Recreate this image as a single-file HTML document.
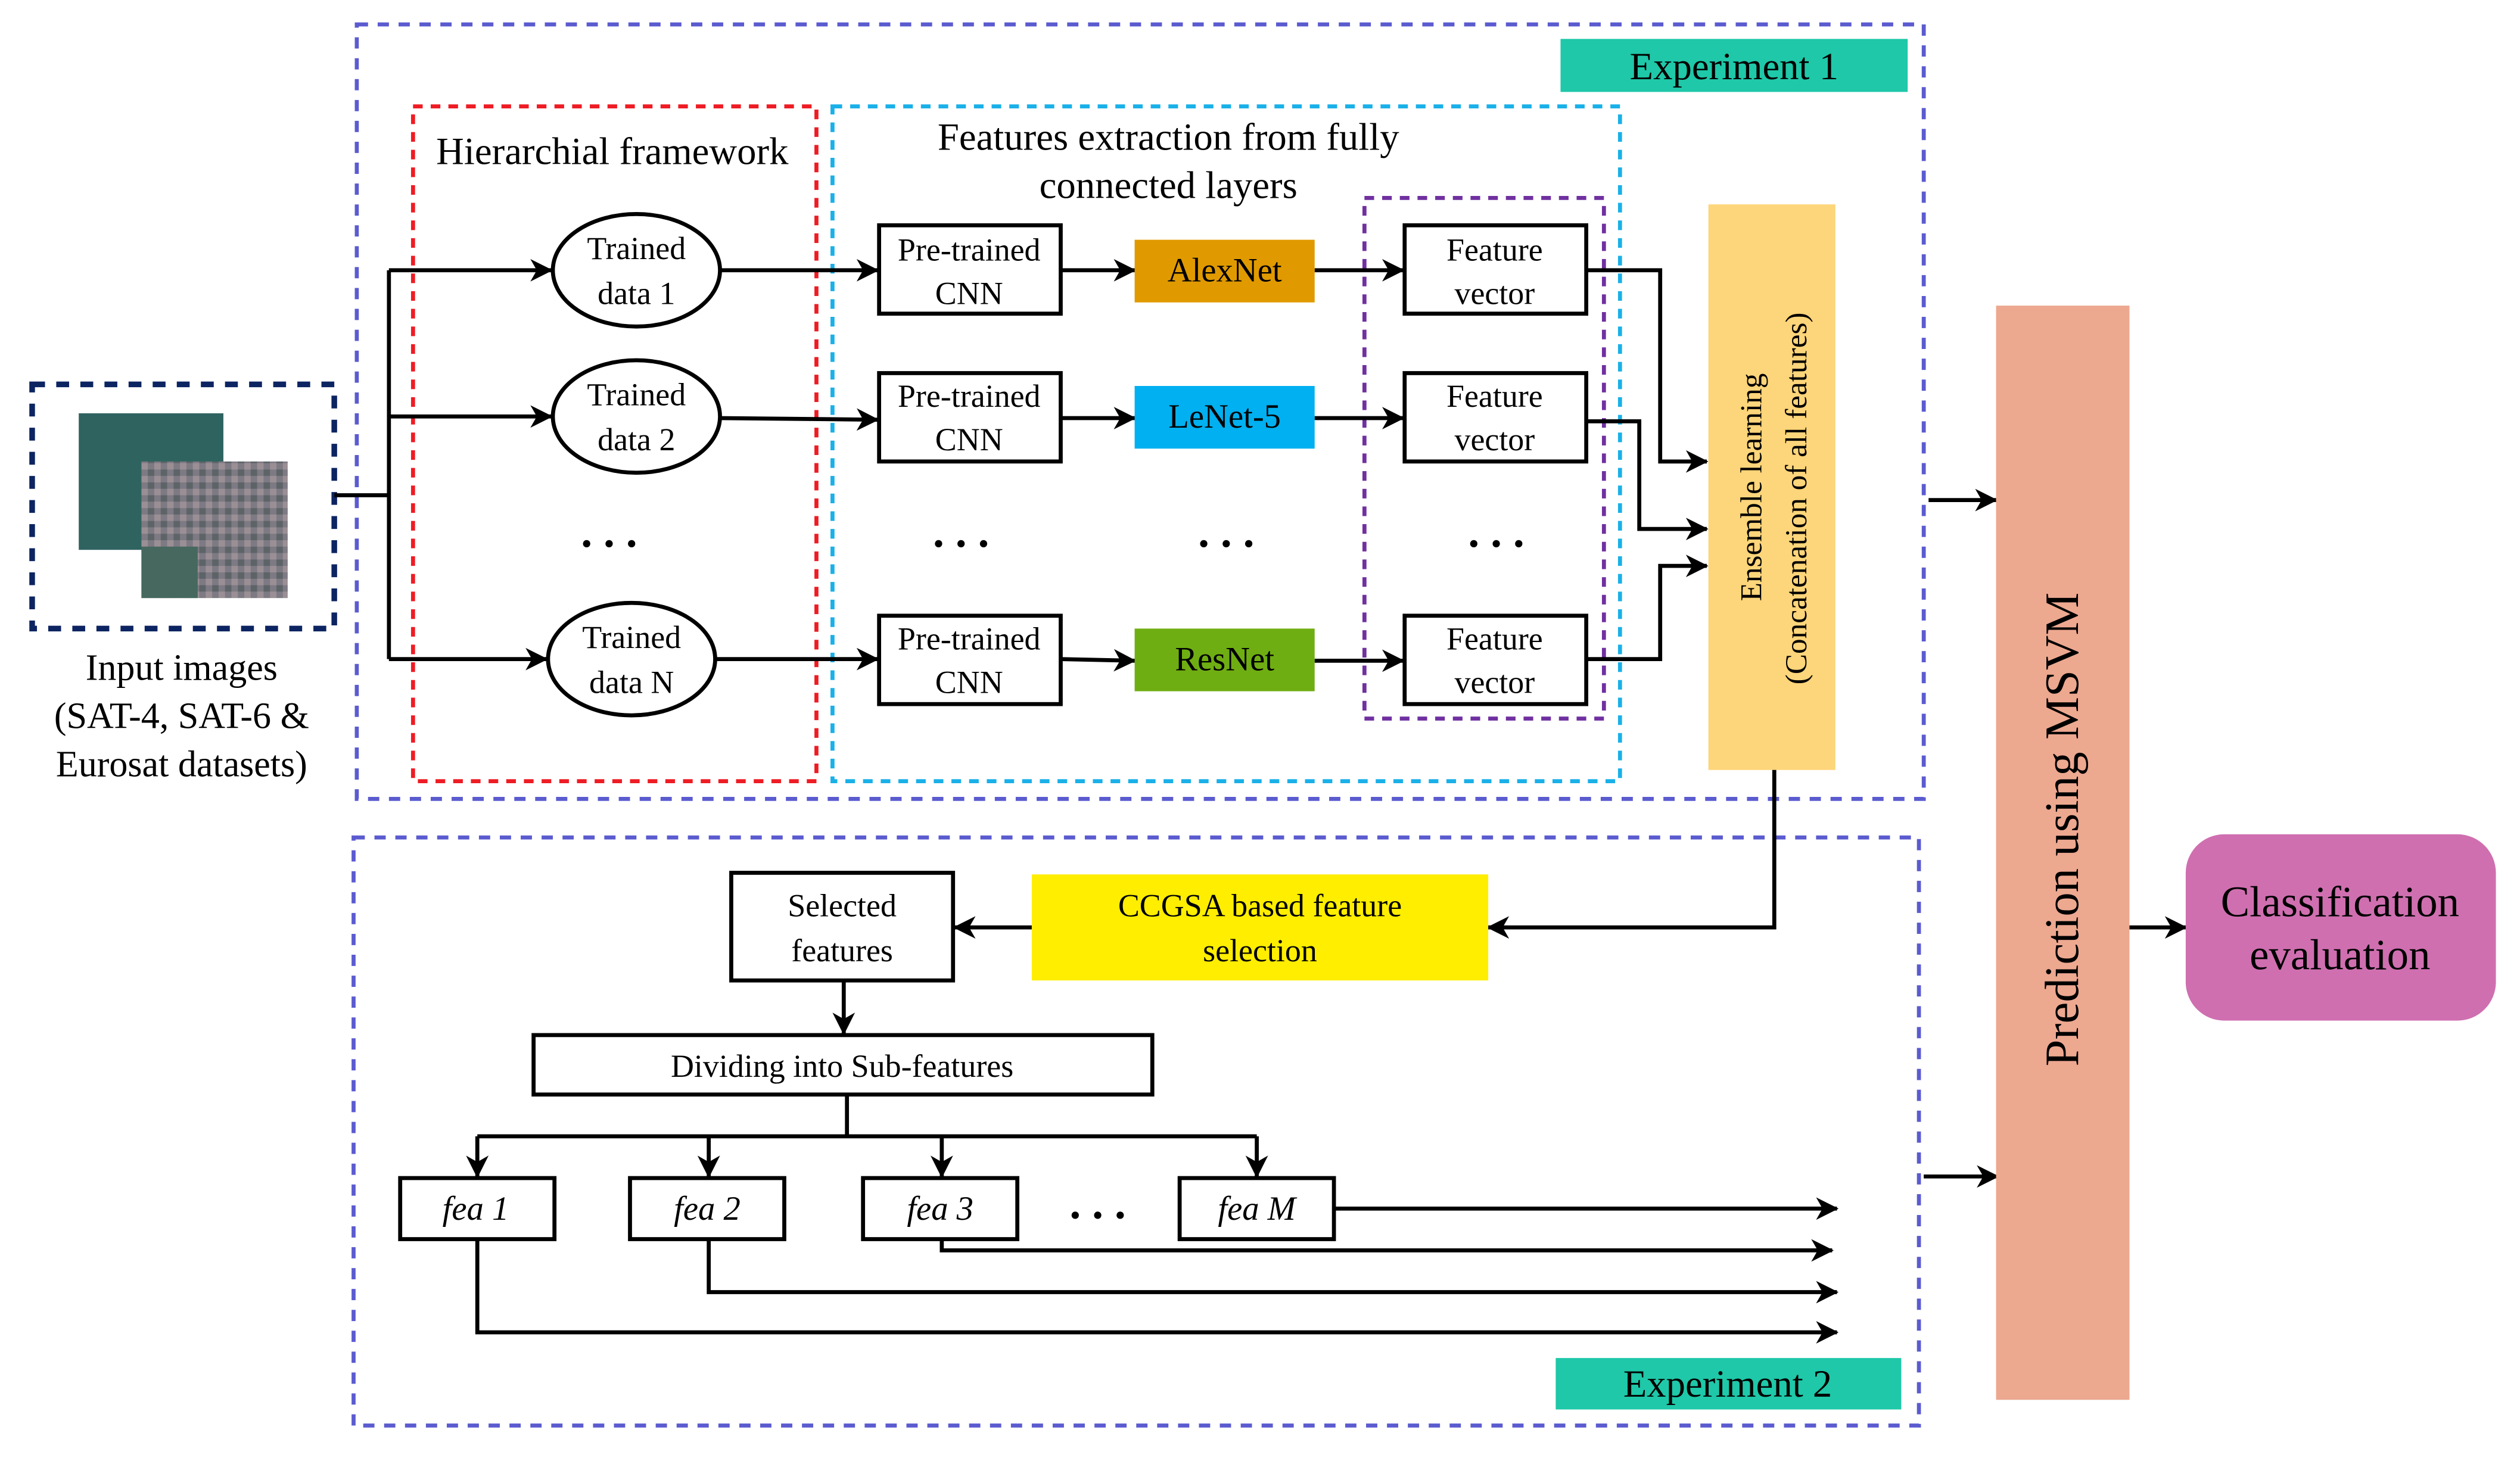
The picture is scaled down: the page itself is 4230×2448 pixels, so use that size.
<!DOCTYPE html>
<html><head><meta charset="utf-8"><style>
html,body{margin:0;padding:0;background:#fff;}
svg{display:block;}
</style></head><body>
<svg width="4230" height="2448" viewBox="0 0 1568 907" xmlns="http://www.w3.org/2000/svg" font-family="'Liberation Serif', 'Times New Roman', serif">
<defs>
<marker id="b" markerWidth="14" markerHeight="14" refX="13" refY="7" orient="auto" markerUnits="userSpaceOnUse" viewBox="0 0 14 14">
<path d="M0,0 L14,7 L0,14 L4,7 z" fill="#000"/></marker>
<pattern id="p" width="8" height="8" patternUnits="userSpaceOnUse">
<rect width="8" height="8" fill="#7d7a84"/><rect width="4" height="4" fill="#9a8f94"/><rect x="4" y="4" width="4" height="4" fill="#5d6468"/></pattern>
</defs>
<rect width="1568" height="907" fill="#fff"/>
<rect x="222" y="15" width="975" height="482" fill="none" stroke="#5b5bd0" stroke-width="2.5" stroke-dasharray="7,6"/>
<rect x="220" y="521" width="974" height="366" fill="none" stroke="#5b5bd0" stroke-width="2.5" stroke-dasharray="7,6"/>
<rect x="257" y="66" width="251" height="420" fill="none" stroke="#ee1c24" stroke-width="2.5" stroke-dasharray="6,5"/>
<rect x="518" y="66" width="490" height="420" fill="none" stroke="#1ab0e8" stroke-width="2.5" stroke-dasharray="6,5"/>
<rect x="849" y="123" width="149" height="324" fill="none" stroke="#7030a0" stroke-width="2.5" stroke-dasharray="6,5"/>
<rect x="20" y="239" width="188" height="152" fill="none" stroke="#0c2461" stroke-width="3.5" stroke-dasharray="8,7"/>
<rect x="49" y="257" width="90" height="85" fill="#2f6360"/>
<rect x="88" y="287" width="91" height="85" fill="url(#p)"/>
<rect x="88" y="340" width="35" height="32" fill="#46685f"/>
<rect x="971" y="24" width="216" height="33" fill="#1ec8a8"/>
<text x="1079" y="49" font-size="24" text-anchor="middle">Experiment 1</text>
<rect x="968" y="845" width="215" height="32" fill="#1ec8a8"/>
<text x="1075" y="869" font-size="24" text-anchor="middle">Experiment 2</text>
<text x="381" y="102" font-size="24" text-anchor="middle">Hierarchial framework</text>
<text x="727" y="93" font-size="24" text-anchor="middle">Features extraction from fully</text>
<text x="727" y="123" font-size="24" text-anchor="middle">connected layers</text>
<text x="113" y="423" font-size="23" text-anchor="middle">Input images</text>
<text x="113" y="453" font-size="23" text-anchor="middle">(SAT-4, SAT-6 &amp;</text>
<text x="113" y="483" font-size="23" text-anchor="middle">Eurosat datasets)</text>
<path d="M208,308 H242 M242,168 V410" stroke="#000" stroke-width="2.5" fill="none"/>
<line x1="242" y1="168" x2="343" y2="168" stroke="#000" stroke-width="2.5" marker-end="url(#b)"/>
<line x1="242" y1="259" x2="343" y2="259" stroke="#000" stroke-width="2.5" marker-end="url(#b)"/>
<line x1="242" y1="410" x2="340" y2="410" stroke="#000" stroke-width="2.5" marker-end="url(#b)"/>
<g fill="#fff" stroke="#000" stroke-width="2.5">
<ellipse cx="396" cy="168" rx="52" ry="35"/>
<ellipse cx="396" cy="259" rx="52" ry="35"/>
<ellipse cx="393" cy="410" rx="52" ry="35"/>
</g>
<g font-size="20" text-anchor="middle">
<text x="396" y="161">Trained</text><text x="396" y="189">data 1</text>
<text x="396" y="252">Trained</text><text x="396" y="280">data 2</text>
<text x="393" y="403">Trained</text><text x="393" y="431">data N</text>
</g>
<g stroke="#000" stroke-width="2.5">
<line x1="448" y1="168" x2="546" y2="168" marker-end="url(#b)"/>
<line x1="448" y1="260" x2="546" y2="261" marker-end="url(#b)"/>
<line x1="445" y1="410" x2="546" y2="410" marker-end="url(#b)"/>
<line x1="660" y1="168" x2="706" y2="168" marker-end="url(#b)"/>
<line x1="660" y1="260" x2="706" y2="260" marker-end="url(#b)"/>
<line x1="660" y1="410" x2="706" y2="411" marker-end="url(#b)"/>
<line x1="818" y1="168" x2="873" y2="168" marker-end="url(#b)"/>
<line x1="818" y1="260" x2="873" y2="260" marker-end="url(#b)"/>
<line x1="818" y1="411" x2="873" y2="411" marker-end="url(#b)"/>
</g>
<g fill="#fff" stroke="#000" stroke-width="2.5">
<rect x="547" y="140" width="113" height="55"/>
<rect x="547" y="232" width="113" height="55"/>
<rect x="547" y="383" width="113" height="55"/>
<rect x="874" y="140" width="113" height="55"/>
<rect x="874" y="232" width="113" height="55"/>
<rect x="874" y="383" width="113" height="55"/>
</g>
<g font-size="20" text-anchor="middle">
<text x="603" y="162">Pre-trained</text><text x="603" y="189">CNN</text>
<text x="603" y="253">Pre-trained</text><text x="603" y="280">CNN</text>
<text x="603" y="404">Pre-trained</text><text x="603" y="431">CNN</text>
<text x="930" y="162">Feature</text><text x="930" y="189">vector</text>
<text x="930" y="253">Feature</text><text x="930" y="280">vector</text>
<text x="930" y="404">Feature</text><text x="930" y="431">vector</text>
</g>
<rect x="706" y="149" width="112" height="39" fill="#e09a00"/>
<rect x="706" y="240" width="112" height="39" fill="#00b0f0"/>
<rect x="706" y="391" width="112" height="39" fill="#6fae12"/>
<g font-size="21" text-anchor="middle">
<text x="762" y="175">AlexNet</text><text x="762" y="266">LeNet-5</text><text x="762" y="417">ResNet</text>
</g>
<g font-size="28" text-anchor="middle" font-weight="bold">
<text x="379" y="340">. . .</text><text x="598" y="340">. . .</text><text x="763" y="340">. . .</text><text x="931" y="340">. . .</text>
<text x="683" y="758">. . .</text>
</g>
<rect x="1063" y="127" width="79" height="352" fill="#fdd57a"/>
<text transform="translate(1096,303) rotate(-90)" font-size="19" text-anchor="middle">Ensemble learning</text>
<text transform="translate(1124,310) rotate(-90)" font-size="19" text-anchor="middle">(Concatenation of all features)</text>
<g stroke="#000" stroke-width="2.5" fill="none">
<path d="M987,168 H1033 V287 H1062" marker-end="url(#b)"/>
<path d="M987,262 H1020 V329 H1062" marker-end="url(#b)"/>
<path d="M987,410 H1033 V352 H1062" marker-end="url(#b)"/>
<path d="M1104,479 V577 H926" marker-end="url(#b)"/>
<path d="M1200,311 H1242" marker-end="url(#b)"/>
<path d="M1197,732 H1243" marker-end="url(#b)"/>
<path d="M1325,577 H1360" marker-end="url(#b)"/>
<path d="M642,577 H594" marker-end="url(#b)"/>
<path d="M525,610 V643" marker-end="url(#b)"/>
<path d="M527,681 V707 M297,707 H782"/>
<path d="M297,707 V732" marker-end="url(#b)"/>
<path d="M441,707 V732" marker-end="url(#b)"/>
<path d="M586,707 V732" marker-end="url(#b)"/>
<path d="M782,707 V732" marker-end="url(#b)"/>
<path d="M830,752 H1143" marker-end="url(#b)"/>
<path d="M586,771 V778 H1140" marker-end="url(#b)"/>
<path d="M441,771 V804 H1143" marker-end="url(#b)"/>
<path d="M297,771 V829 H1143" marker-end="url(#b)"/>
</g>
<rect x="1242" y="190" width="83" height="681" fill="#eda890"/>
<text transform="translate(1293,516) rotate(-90)" font-size="30" text-anchor="middle">Prediction using MSVM</text>
<rect x="1360" y="519" width="193" height="116" rx="24" fill="#cf6fb0"/>
<text x="1456" y="570" font-size="27" text-anchor="middle">Classification</text>
<text x="1456" y="603" font-size="27" text-anchor="middle">evaluation</text>
<rect x="455" y="543" width="138" height="67" fill="#fff" stroke="#000" stroke-width="2.5"/>
<text x="524" y="570" font-size="20" text-anchor="middle">Selected</text>
<text x="524" y="598" font-size="20" text-anchor="middle">features</text>
<rect x="642" y="544" width="284" height="66" fill="#ffee00"/>
<text x="784" y="570" font-size="20" text-anchor="middle">CCGSA based feature</text>
<text x="784" y="598" font-size="20" text-anchor="middle">selection</text>
<rect x="332" y="644" width="385" height="37" fill="#fff" stroke="#000" stroke-width="2.5"/>
<text x="524" y="670" font-size="20" text-anchor="middle">Dividing into Sub-features</text>
<g fill="#fff" stroke="#000" stroke-width="2.5">
<rect x="249" y="733" width="96" height="38"/>
<rect x="392" y="733" width="96" height="38"/>
<rect x="537" y="733" width="96" height="38"/>
<rect x="734" y="733" width="96" height="38"/>
</g>
<g font-size="21" text-anchor="middle" font-style="italic">
<text x="296" y="759">fea 1</text><text x="440" y="759">fea 2</text><text x="585" y="759">fea 3</text><text x="782" y="759">fea M</text>
</g>
</svg>
</body></html>
